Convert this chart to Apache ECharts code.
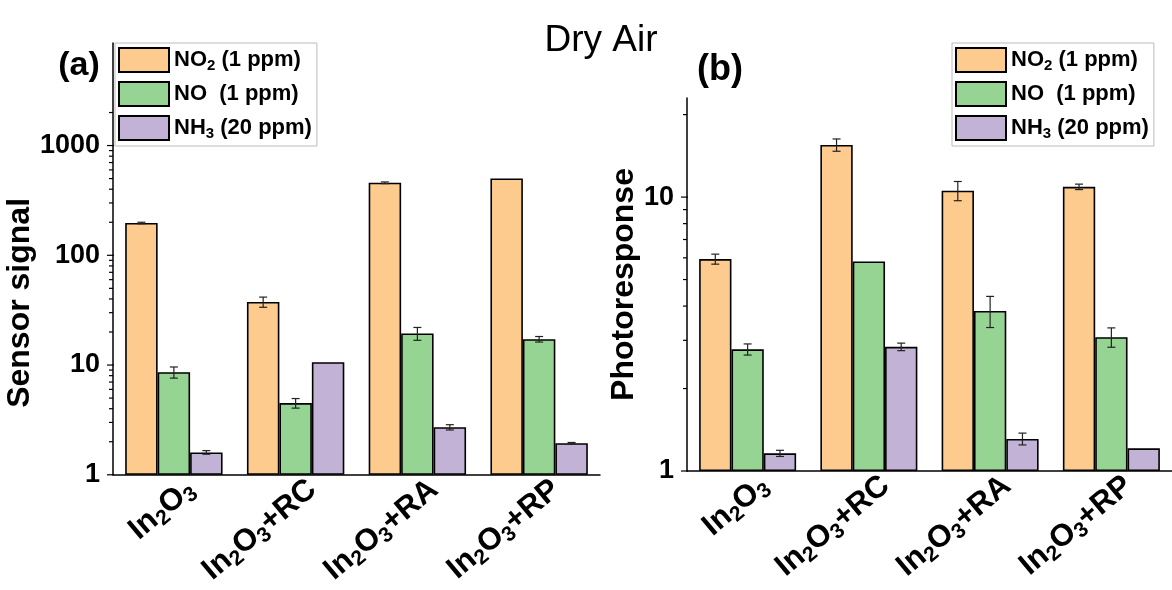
<!DOCTYPE html>
<html>
<head>
<meta charset="utf-8">
<script src="https://cdn.jsdelivr.net/npm/echarts@6/dist/echarts.min.js"></script>
<style>
  html, body { margin: 0; padding: 0; background: #fff; }
  #chart { width: 1172px; height: 590px; }
</style>
</head>
<body>
<div id="chart"></div>
<script>
const FONT = "Liberation Sans, Arial, sans-serif";

const categories = ["In2O3", "In2O3+RC", "In2O3+RA", "In2O3+RP"];
const gasNames = ["NO2 (1 ppm)", "NO  (1 ppm)", "NH3 (20 ppm)"];
const gasColors = ["#FECB8F", "#96D494", "#C2B3D6"];

// (a) sensor signal
const sensorNO2 = [197, 37.6, 458, 501];
const sensorNO = [8.6, 4.5, 19.4, 17.2];
const sensorNH3 = [1.6, 10.6, 2.71, 1.94];
const errSensorNO2 = [3, 4, 8, 0];
const errSensorNO = [1.0, 0.45, 2.6, 1.0];
const errSensorNH3 = [0.06, 0, 0.15, 0.03];

// (b) photoresponse
const photoNO2 = [5.94, 15.5, 10.55, 10.9];
const photoNO = [2.78, 5.82, 3.84, 3.08];
const photoNH3 = [1.16, 2.84, 1.31, 1.21];
const errPhotoNO2 = [0.25, 0.8, 0.85, 0.25];
const errPhotoNO = [0.13, 0, 0.5, 0.25];
const errPhotoNH3 = [0.03, 0.09, 0.065, 0];

// y tick values (log axes)
const ticksA = [1, 2, 3, 4, 5, 6, 7, 8, 9, 10, 20, 30, 40, 50, 60, 70, 80, 90,
  100, 200, 300, 400, 500, 600, 700, 800, 900, 1000, 2000];
const ticksB = [1, 2, 3, 4, 5, 6, 7, 8, 9, 10, 20];

// "In2O3" -> rich text with subscripts
function chem(s, main, sub) {
  return "{" + main + "|" + s.replace(/([A-Za-z])(\d+)/g, "$1}{" + sub + "|$2}{" + main + "|") + "}";
}

function isDecade(v) {
  const l = Math.log10(v);
  return Math.abs(l - Math.round(l)) < 1e-6;
}

function barSeries(values, gi, axisIdx) {
  return {
    type: "bar",
    name: gasNames[gi],
    xAxisIndex: axisIdx,
    yAxisIndex: axisIdx,
    data: values,
    barGap: "0%",
    barCategoryGap: "20%",
    itemStyle: { color: gasColors[gi], borderColor: "#000", borderWidth: 1.6 },
    z: 2
  };
}

function errorSeries(groups, axisIdx) {
  const data = [];
  groups.forEach(([vals, errs], k) => {
    vals.forEach((v, i) => {
      if (errs[i] > 0) data.push([i, k, v - errs[i], v + errs[i]]);
    });
  });
  return {
    type: "custom",
    xAxisIndex: axisIdx,
    yAxisIndex: axisIdx,
    data,
    encode: { x: 0, y: [2, 3] },
    z: 5,
    silent: true,
    renderItem: (params, api) => {
      const cat = api.value(0);
      const k = api.value(1);
      const hi = api.coord([cat, api.value(3)]);
      const lo = api.coord([cat, api.value(2)]);
      const band = params.coordSys.width / categories.length;
      const bw = band * 0.8 / 3;
      const x = hi[0] + (k - 1) * bw;
      const cap = 4;
      const style = { stroke: "#222", lineWidth: 1.2 };
      return {
        type: "group",
        children: [
          { type: "line", shape: { x1: x, y1: hi[1], x2: x, y2: lo[1] }, style },
          { type: "line", shape: { x1: x - cap, y1: hi[1], x2: x + cap, y2: hi[1] }, style },
          { type: "line", shape: { x1: x - cap, y1: lo[1], x2: x + cap, y2: lo[1] }, style }
        ]
      };
    }
  };
}

function tickSeries(ticks, axisIdx) {
  return {
    type: "custom",
    xAxisIndex: axisIdx,
    yAxisIndex: axisIdx,
    data: ticks.map(v => [0, v]),
    encode: { x: 0, y: 1 },
    z: 6,
    silent: true,
    renderItem: (params, api) => {
      const v = api.value(1);
      const y = api.coord([0, v])[1];
      const x = params.coordSys.x;
      const len = isDecade(v) ? 6 : 4;
      return {
        type: "line",
        shape: { x1: x - len, y1: y, x2: x + (isDecade(v) ? 1 : 0), y2: y },
        style: { stroke: "#000", lineWidth: 1.2 }
      };
    }
  };
}

const labelRich = {
  m: { fontSize: 31, fontWeight: "bold", fontFamily: FONT, color: "#000", lineHeight: 36 },
  s: { fontSize: 21, fontWeight: "bold", fontFamily: FONT, color: "#000", lineHeight: 20, verticalAlign: "bottom" }
};
const legendRich = {
  m: { fontSize: 22, fontWeight: "bold", fontFamily: FONT, color: "#000", lineHeight: 26 },
  s: { fontSize: 15, fontWeight: "bold", fontFamily: FONT, color: "#000", lineHeight: 14, verticalAlign: "bottom" }
};

function xAxis(gridIndex) {
  return {
    type: "category",
    gridIndex,
    data: categories,
    axisLine: { lineStyle: { color: "#000", width: 1.5 } },
    axisTick: { lineStyle: { color: "#000", width: 1.2 }, length: 6 },
    axisLabel: {
      interval: 0,
      rotate: 40,
      margin: 25,
      padding: [0, -22, 0, 0],
      formatter: v => chem(v, "m", "s"),
      rich: labelRich
    }
  };
}

function yAxis(gridIndex, max, name, nameGap, namePad) {
  return {
    type: "log",
    logBase: 10,
    gridIndex,
    min: 1,
    max,
    name,
    nameLocation: "middle",
    nameGap,
    nameTextStyle: { fontSize: 32, fontWeight: "bold", fontFamily: FONT, color: "#000", padding: namePad },
    axisLine: { show: true, lineStyle: { color: "#000", width: 1.5 } },
    axisTick: { show: false },
    minorTick: { show: false },
    splitLine: { show: false },
    axisLabel: {
      margin: 13,
      fontSize: 27,
      fontWeight: "bold",
      fontFamily: FONT,
      color: "#000",
      formatter: v => (isDecade(v) ? String(Math.round(v)) : "")
    }
  };
}

function legend(left) {
  return {
    data: gasNames,
    orient: "vertical",
    left,
    top: 43,
    icon: "rect",
    itemWidth: 50,
    itemHeight: 24,
    itemGap: 8,
    padding: [4, 5, 5, 3],
    borderColor: "#bbb",
    borderWidth: 1,
    selectedMode: false,
    formatter: n => chem(n, "m", "s"),
    textStyle: { rich: legendRich }
  };
}

const chart = echarts.init(document.getElementById("chart"));
chart.setOption({
  backgroundColor: "#fff",
  animation: false,
  textStyle: { fontFamily: FONT },
  graphic: [
    { type: "text", x: 601, y: 41, style: { text: "Dry Air", font: "37px " + FONT, fill: "#000", align: "center", verticalAlign: "middle" } },
    { type: "text", x: 79, y: 66, style: { text: "(a)", font: "bold 34px " + FONT, fill: "#000", align: "center", verticalAlign: "middle" } },
    { type: "text", x: 720, y: 70, style: { text: "(b)", font: "bold 36px " + FONT, fill: "#000", align: "center", verticalAlign: "middle" } }
  ],
  legend: [legend(115), legend(952)],
  grid: [
    { left: 113, top: 43, width: 487, height: 433 },
    { left: 687, top: 98, width: 485, height: 373 }
  ],
  xAxis: [xAxis(0), xAxis(1)],
  yAxis: [yAxis(0, 8600, "Sensor signal", 70, [0, 88, 0, 0]), yAxis(1, 23, "Photoresponse", 47, 0)],
  series: [
    barSeries(sensorNO2, 0, 0),
    barSeries(sensorNO, 1, 0),
    barSeries(sensorNH3, 2, 0),
    barSeries(photoNO2, 0, 1),
    barSeries(photoNO, 1, 1),
    barSeries(photoNH3, 2, 1),
    errorSeries([[sensorNO2, errSensorNO2], [sensorNO, errSensorNO], [sensorNH3, errSensorNH3]], 0),
    errorSeries([[photoNO2, errPhotoNO2], [photoNO, errPhotoNO], [photoNH3, errPhotoNH3]], 1),
    tickSeries(ticksA, 0),
    tickSeries(ticksB, 1)
  ]
});
</script>
</body>
</html>
